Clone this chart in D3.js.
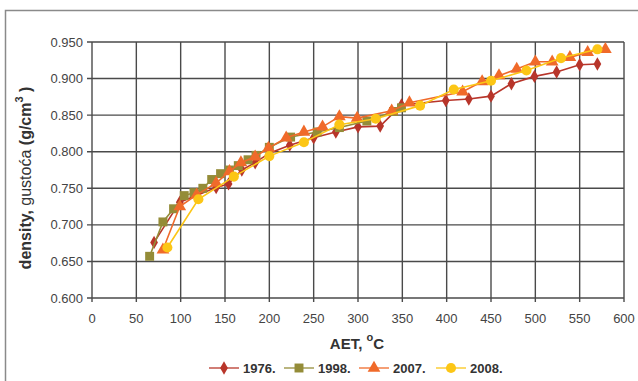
<!DOCTYPE html>
<html>
<head>
<meta charset="utf-8">
<script src="https://cdn.jsdelivr.net/npm/d3@7/dist/d3.min.js"></script>
<style>
  body { margin: 0; background: #fff; }
  svg { display: block; font-family: "Liberation Sans", Arial, sans-serif; }
</style>
</head>
<body>
<svg id="chart" width="638" height="381"></svg>
<script>
// density vs AET, four sampling years
var seriesNames = ['1976.', '1998.', '2007.', '2008.'];
var seriesColors = ['#b8352a', '#948c38', '#f06a2a', '#fcc616'];
var seriesShapes = ['diamond', 'square', 'triangle', 'circle'];

var aet1976 = [70, 99, 140, 154, 169, 184, 200, 223, 250, 275, 300, 325, 349, 399, 425, 450, 473, 499, 524, 550, 570];
var den1976 = [0.676, 0.731, 0.751, 0.756, 0.775, 0.785, 0.798, 0.809, 0.819, 0.827, 0.834, 0.835, 0.864, 0.870, 0.872, 0.876, 0.893, 0.903, 0.909, 0.919, 0.920];

var aet1998 = [65, 80, 92, 104, 115, 125, 135, 145, 155, 165, 176, 185, 200, 224, 254, 279, 310, 340, 349];
var den1998 = [0.657, 0.704, 0.722, 0.740, 0.744, 0.750, 0.762, 0.770, 0.775, 0.781, 0.789, 0.795, 0.806, 0.820, 0.827, 0.833, 0.842, 0.855, 0.860];

var aet2007 = [80, 99, 118, 140, 155, 168, 184, 199, 219, 239, 260, 279, 299, 338, 358, 418, 440, 459, 479, 500, 519, 539, 559, 579];
var den2007 = [0.666, 0.725, 0.741, 0.757, 0.773, 0.785, 0.793, 0.805, 0.819, 0.827, 0.834, 0.848, 0.846, 0.856, 0.867, 0.882, 0.896, 0.904, 0.913, 0.923, 0.923, 0.929, 0.936, 0.940];

var aet2008 = [85, 120, 160, 200, 239, 279, 320, 370, 408, 450, 490, 529, 570];
var den2008 = [0.669, 0.735, 0.766, 0.794, 0.813, 0.837, 0.845, 0.863, 0.885, 0.897, 0.911, 0.928, 0.940];

var xTicks = [0, 50, 100, 150, 200, 250, 300, 350, 400, 450, 500, 550, 600];
var yTicks = [0.600, 0.650, 0.700, 0.750, 0.800, 0.850, 0.900, 0.950];

var allX = [aet1976, aet1998, aet2007, aet2008];
var allY = [den1976, den1998, den2007, den2008];

var svg = d3.select('#chart');
var plotL = 92, plotR = 624, plotT = 42, plotB = 298;

var x = d3.scaleLinear().domain([0, 600]).range([plotL, plotR]);
var y = d3.scaleLinear().domain([0.6, 0.95]).range([plotB, plotT]);

// outer frame
svg.append('path')
  .attr('d', 'M5.5,385 L5.5,10.5 L640,10.5')
  .attr('fill', 'none').attr('stroke', '#8a8a8a').attr('stroke-width', 1.5);

// grid
var grid = svg.append('g').attr('stroke', '#4a4a4a').attr('stroke-width', 1.4);
xTicks.forEach(function(t) {
  grid.append('line').attr('x1', x(t)).attr('x2', x(t)).attr('y1', plotT).attr('y2', plotB + 4);
});
yTicks.forEach(function(t) {
  grid.append('line').attr('x1', plotL - 5).attr('x2', plotR).attr('y1', y(t)).attr('y2', y(t));
});

// tick labels
svg.append('g').selectAll('text').data(xTicks).join('text')
  .attr('x', function(d) { return x(d); }).attr('y', 323)
  .attr('text-anchor', 'middle').attr('font-size', '13px').attr('fill', '#444')
  .text(function(d) { return d; });

svg.append('g').selectAll('text').data(yTicks).join('text')
  .attr('x', plotL - 9).attr('y', function(d) { return y(d) + 4.5; })
  .attr('text-anchor', 'end').attr('font-size', '13px').attr('fill', '#444')
  .text(function(d) { return d3.format('.3f')(d); });

// axis titles
var xt = svg.append('text').attr('x', 357).attr('y', 349)
  .attr('text-anchor', 'middle').attr('font-size', '15px').attr('font-weight', 'bold').attr('fill', '#333');
xt.append('tspan').text('AET, ');
xt.append('tspan').attr('font-size', '11px').attr('dy', -8).text('o');
xt.append('tspan').attr('dy', 8).text('C');

var yt = svg.append('text').attr('transform', 'translate(31,178) rotate(-90)')
  .attr('text-anchor', 'middle').attr('font-size', '16px').attr('fill', '#333');
yt.append('tspan').attr('font-weight', 'bold').text('density, ');
yt.append('tspan').text('gustoća  ');
yt.append('tspan').attr('font-weight', 'bold').text('(g/cm');
yt.append('tspan').attr('font-weight', 'bold').attr('font-size', '11px').attr('dy', -8).text('3');
yt.append('tspan').attr('font-weight', 'bold').attr('dy', 8).text(' )');

function symbolFor(shape) {
  if (shape === 'diamond') return d3.symbol().type(d3.symbolDiamond).size(52);
  if (shape === 'square') return d3.symbol().type(d3.symbolSquare).size(80);
  if (shape === 'triangle') return d3.symbol().type(d3.symbolTriangle).size(70);
  return d3.symbol().type(d3.symbolCircle).size(80);
}

var line = d3.line().x(function(d) { return x(d[0]); }).y(function(d) { return y(d[1]); });

seriesNames.forEach(function(name, i) {
  var pts = allX[i].map(function(v, j) { return [v, allY[i][j]]; });
  var g = svg.append('g');
  g.append('path').datum(pts).attr('d', line)
    .attr('fill', 'none').attr('stroke', seriesColors[i]).attr('stroke-width', 1.6);
  g.selectAll('path.m').data(pts).join('path').attr('class', 'm')
    .attr('transform', function(d) { return 'translate(' + x(d[0]) + ',' + y(d[1]) + ')'; })
    .attr('d', symbolFor(seriesShapes[i])())
    .attr('fill', seriesColors[i]);
});

// legend
var legendX = [209, 284, 359, 436];
var leg = svg.append('g');
seriesNames.forEach(function(name, i) {
  var lx = legendX[i], ly = 368;
  leg.append('line').attr('x1', lx).attr('x2', lx + 30).attr('y1', ly).attr('y2', ly)
    .attr('stroke', seriesColors[i]).attr('stroke-width', 1.6).attr('opacity', 0.8);
  leg.append('path').attr('transform', 'translate(' + (lx + 15) + ',' + ly + ')')
    .attr('d', symbolFor(seriesShapes[i])()).attr('fill', seriesColors[i]);
  leg.append('text').attr('x', lx + 34).attr('y', ly + 5)
    .attr('font-size', '13px').attr('font-weight', 'bold').attr('fill', '#333').text(name);
});
</script>
</body>
</html>
